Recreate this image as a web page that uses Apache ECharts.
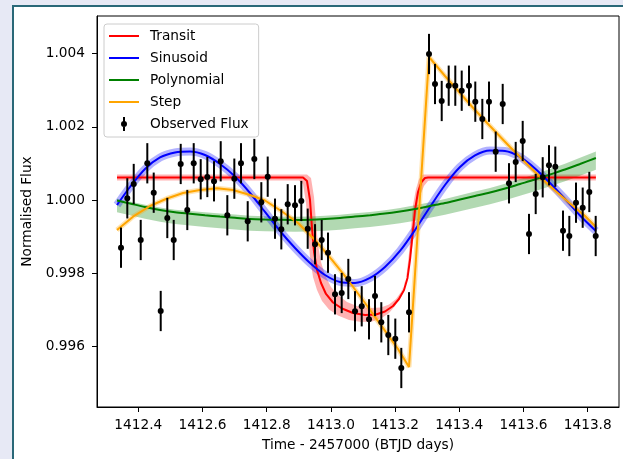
<!DOCTYPE html>
<html><head><meta charset="utf-8">
<script src="https://cdn.jsdelivr.net/npm/echarts@6/dist/echarts.min.js"></script>
<style>
html,body{margin:0;padding:0;width:623px;height:459px;overflow:hidden;background:#e7e9f5;}
#panel{position:absolute;left:12px;top:5px;width:640px;height:480px;background:#fff;border:2px solid #2a6878;box-sizing:border-box;}
#chart{position:absolute;left:0;top:0;width:623px;height:459px;}
</style></head><body>
<div id="panel"></div><div id="chart"></div>
<script>
// ---- observed data ----
const time = [1412.3461, 1412.3657, 1412.3857, 1412.4075, 1412.4280, 1412.4480, 1412.4698, 1412.4903, 1412.5103, 1412.5321,
  1412.5526, 1412.5726, 1412.5944, 1412.6150, 1412.6358, 1412.6567, 1412.6773, 1412.6991, 1412.7199, 1412.7408,
  1412.7614, 1412.7832, 1412.8031, 1412.8259, 1412.8455, 1412.8654, 1412.8882, 1412.9078, 1412.9277, 1412.9505,
  1412.9713, 1412.9910, 1413.0128, 1413.0336, 1413.0542, 1413.0751, 1413.0960, 1413.1187, 1413.1374, 1413.1570,
  1413.1788, 1413.2006, 1413.2193, 1413.2433, 1413.3056, 1413.3243, 1413.3452, 1413.3670, 1413.3875, 1413.4075,
  1413.4302, 1413.4498, 1413.4717, 1413.4925, 1413.5134, 1413.5352, 1413.5548, 1413.5757, 1413.5975, 1413.6171,
  1413.6380, 1413.6598, 1413.6794, 1413.6991, 1413.7231, 1413.7427, 1413.7636, 1413.7844, 1413.8050, 1413.8249];
const flux = [0.998697, 1.000046, 1.000437, 0.998907, 1.001003, 1.000199, 0.996967, 0.999508, 0.998907, 1.000984,
  0.999727, 1.001003, 1.000566, 1.000628, 1.000511, 1.001057, 0.999582, 1.000582, 1.001003, 0.999418,
  1.001120, 0.999937, 1.000637, 0.999489, 0.999199, 0.999883, 0.999855, 0.999973, 0.999216, 0.998790,
  0.998907, 0.998560, 0.997423, 0.997459, 0.997842, 0.996959, 0.997096, 0.996740, 0.997377, 0.996658,
  0.996311, 0.996210, 0.995410, 0.996932, 1.003989, 1.003169, 1.002705, 1.003123, 1.003123, 1.002986,
  1.003123, 1.002686, 1.002213, 1.002686, 1.001320, 1.002623, 1.000456, 1.001038, 1.001612, 0.999071,
  1.000164, 1.000620, 1.000948, 1.000910, 0.999161, 0.999016, 0.999926, 0.999790, 1.000219, 0.999016];
const fluxErr = 0.00055;

// ---- transit model ----
const transitTime = [1412.3336, 1412.9131, 1412.9255, 1412.9349, 1412.9411, 1412.9474, 1412.9567, 1412.9692, 1412.9847, 1413.0065,
  1413.0346, 1413.0688, 1413.1062, 1413.1405, 1413.1685, 1413.1935, 1413.2121, 1413.2277, 1413.2386, 1413.2464,
  1413.2542, 1413.2620, 1413.2713, 1413.2822, 1413.2931, 1413.3025, 1413.8255];
const transitFlux = [1.000615, 1.000615, 1.000519, 1.000000, 0.999235, 0.998579, 0.998087, 0.997732, 0.997432, 0.997199,
  0.997036, 0.996913, 0.996858, 0.996872, 0.996954, 0.997104, 0.997295, 0.997541, 0.997869, 0.998361,
  0.999044, 0.999727, 1.000219, 1.000492, 1.000601, 1.000615, 1.000615];
const transitUpTime = [1412.3336, 1412.9255, 1412.9380, 1412.9474, 1412.9536, 1412.9598, 1412.9692, 1412.9816, 1413.0003, 1413.0221,
  1413.0502, 1413.0844, 1413.1218, 1413.1561, 1413.1810, 1413.2028, 1413.2184, 1413.2308, 1413.2371, 1413.2433,
  1413.2495, 1413.2558, 1413.2651, 1413.2745, 1413.2869, 1413.8255];
const transitUpFlux = [1.000697, 1.000697, 1.000601, 1.000082, 0.999399, 0.998770, 0.998306, 0.997951, 0.997623, 0.997404,
  0.997213, 0.997090, 0.997049, 0.997063, 0.997145, 0.997295, 0.997486, 0.997732, 0.998060, 0.998552,
  0.999208, 0.999863, 1.000301, 1.000574, 1.000697, 1.000697];
const transitLoTime = [1412.3336, 1412.9006, 1412.9131, 1412.9224, 1412.9287, 1412.9349, 1412.9442, 1412.9567, 1412.9723, 1412.9941,
  1413.0221, 1413.0564, 1413.0938, 1413.1280, 1413.1561, 1413.1810, 1413.1997, 1413.2153, 1413.2277, 1413.2433,
  1413.2558, 1413.2651, 1413.2745, 1413.2900, 1413.3025, 1413.3118, 1413.8255];
const transitLoFlux = [1.000533, 1.000533, 1.000437, 0.999918, 0.999126, 0.998443, 0.997896, 0.997541, 0.997240, 0.997008,
  0.996844, 0.996721, 0.996667, 0.996680, 0.996762, 0.996913, 0.997104, 0.997350, 0.997678, 0.998169,
  0.998852, 0.999563, 1.000055, 1.000383, 1.000519, 1.000533, 1.000533];

// ---- sinusoid & polynomial models ----
const modelTime = [1412.3336, 1412.3741, 1412.4209, 1412.4676, 1412.5143, 1412.5611, 1412.6078, 1412.6545, 1412.7012, 1412.7480,
  1412.7947, 1412.8414, 1412.8882, 1412.9349, 1412.9816, 1413.0283, 1413.0751, 1413.1218, 1413.1685, 1413.2153,
  1413.2620, 1413.3087, 1413.3554, 1413.4022, 1413.4489, 1413.4956, 1413.5424, 1413.5891, 1413.6358, 1413.6826,
  1413.7293, 1413.7760, 1413.8255];
const sinusoidFlux = [0.999863, 1.000355, 1.000847, 1.001161, 1.001298, 1.001325, 1.001230, 1.000984, 1.000642, 1.000191,
  0.999672, 0.999153, 0.998689, 0.998279, 0.997951, 0.997760, 0.997732, 0.997869, 0.998169, 0.998607,
  0.999180, 0.999809, 1.000410, 1.000902, 1.001216, 1.001352, 1.001339, 1.001175, 1.000861, 1.000464,
  1.000027, 0.999577, 0.999153];
const polyFlux = [0.999986, 0.999904, 0.999809, 0.999727, 0.999664, 0.999623, 0.999582, 0.999546, 0.999514, 0.999481,
  0.999467, 0.999459, 0.999454, 0.999462, 0.999481, 0.999508, 0.999546, 0.999585, 0.999628, 0.999686,
  0.999754, 0.999836, 0.999918, 1.000014, 1.000109, 1.000205, 1.000314, 1.000437, 1.000560, 1.000697,
  1.000833, 1.000984, 1.001148];
const polyUpper = [1.000036, 0.999959, 0.999869, 0.999792, 0.999734, 0.999698, 0.999662, 0.999631, 0.999604, 0.999571,
  0.999557, 0.999549, 0.999544, 0.999552, 0.999571, 0.999598, 0.999636, 0.999675, 0.999718, 0.999781,
  0.999854, 0.999941, 1.000028, 1.000129, 1.000229, 1.000330, 1.000444, 1.000572, 1.000700, 1.000847,
  1.000993, 1.001154, 1.001328];
const polyLower = [0.999666, 0.999584, 0.999489, 0.999407, 0.999344, 0.999303, 0.999262, 0.999226, 0.999194, 0.999161,
  0.999147, 0.999139, 0.999134, 0.999142, 0.999161, 0.999188, 0.999226, 0.999265, 0.999308, 0.999366,
  0.999434, 0.999516, 0.999598, 0.999694, 0.999789, 0.999885, 0.999994, 1.000117, 1.000240, 1.000377,
  1.000513, 1.000664, 1.000828];

// ---- step model ----
const stepTime = [1412.3336, 1412.3835, 1412.4364, 1412.4894, 1412.5393, 1412.5922, 1412.6452, 1412.6950, 1412.7480, 1412.7947,
  1412.8477, 1412.8975, 1412.9505, 1413.0034, 1413.0533, 1413.1062, 1413.1592, 1413.2090, 1413.2433, 1413.3056,
  1413.3554, 1413.4022, 1413.4489, 1413.4956, 1413.5579, 1413.6047, 1413.6514, 1413.6981, 1413.7449, 1413.7916, 1413.8255];
const stepFlux = [0.999180, 0.999544, 0.999836, 1.000041, 1.000191, 1.000273, 1.000320, 1.000273, 1.000137, 0.999986,
  0.999686, 0.999372, 0.998907, 0.998361, 0.997814, 0.997186, 0.996538, 0.995929, 0.995437, 1.003907,
  1.003388, 1.002923, 1.002459, 1.002022, 1.001448, 1.001038, 1.000628, 1.000260, 0.999904, 0.999563, 0.999262];

// ---- axes ----
const xTicks = [1412.4, 1412.6, 1412.8, 1413.0, 1413.2, 1413.4, 1413.6, 1413.8];
const yTicks = [0.996, 0.998, 1.000, 1.002, 1.004];
const legendNames = ['Transit', 'Sinusoid', 'Polynomial', 'Step', 'Observed Flux'];

const FONT = 'DejaVu Sans';
const FS = 13.7;
const pairs = (xs, ys) => xs.map((x, i) => [x, ys[i]]);

function bandSeries(name, upX, upY, loX, loY, color) {
  return {
    type: 'custom', name: name, silent: true, z: 1, data: [[upX[0], upY[0]]],
    renderItem: function (params, api) {
      const pts = [];
      for (let i = 0; i < upX.length; i++) pts.push(api.coord([upX[i], upY[i]]));
      for (let i = loX.length - 1; i >= 0; i--) pts.push(api.coord([loX[i], loY[i]]));
      return { type: 'polygon', shape: { points: pts }, style: { fill: color } };
    }
  };
}
function lineSeries(name, xs, ys, color, width, z, smooth) {
  return {
    type: 'line', name: name, data: pairs(xs, ys), symbol: 'none', showSymbol: false, silent: true,
    smooth: smooth || false, z: z, color: color,
    lineStyle: { color: color, width: width }, itemStyle: { color: color }
  };
}

const chart = echarts.init(document.getElementById('chart'), null, { renderer: 'canvas' });
const lineIcon = 'path://M0,0 H30 V2 H0 Z';
const errIcon = 'path://M-1,-7 H1 V7 H-1 Z M0,-3 A3,3 0 1 1 0,3 A3,3 0 1 1 0,-3 Z';
const colors = ['#ff0000', '#0000ff', '#008000', '#ffa500', '#000000'];

chart.setOption({
  animation: false,
  textStyle: { fontFamily: FONT },
  grid: { left: 97, right: 4, top: 16, bottom: 52, show: true, borderColor: '#000', borderWidth: 1, backgroundColor: 'transparent' },
  legend: {
    left: 104, top: 24, orient: 'vertical', itemWidth: 30, itemHeight: 14, itemGap: 8,
    padding: [5, 10, 6, 5], backgroundColor: 'rgba(255,255,255,0.8)', borderColor: '#cccccc', borderWidth: 1, borderRadius: 3,
    selectedMode: false,
    textStyle: { fontFamily: FONT, fontSize: FS, color: '#000', padding: [0, 0, 0, 6] },
    data: legendNames.map((n, i) => ({
      name: n, icon: i === 4 ? errIcon : lineIcon,
      itemStyle: { color: colors[i], borderWidth: 0 }
    }))
  },
  xAxis: {
    type: 'value', min: 1412.2713, max: 1413.8975,
    name: 'Time - 2457000 (BTJD days)', nameLocation: 'middle', nameGap: 31,
    nameTextStyle: { fontFamily: FONT, fontSize: FS, color: '#000' },
    splitLine: { show: false },
    axisLine: { show: true, onZero: false, lineStyle: { color: '#000', width: 1 } },
    axisTick: { show: true, length: 5, lineStyle: { color: '#000', width: 1 }, customValues: xTicks },
    axisLabel: { customValues: xTicks, formatter: v => v.toFixed(1), margin: 11, fontSize: FS, color: '#000', fontFamily: FONT }
  },
  yAxis: {
    type: 'value', min: 0.994344, max: 1.005027,
    name: 'Normalised Flux', nameLocation: 'middle', nameGap: 58,
    nameTextStyle: { fontFamily: FONT, fontSize: FS, color: '#000' },
    splitLine: { show: false },
    axisLine: { show: true, onZero: false, lineStyle: { color: '#000', width: 1 } },
    axisTick: { show: true, length: 5, lineStyle: { color: '#000', width: 1 }, customValues: yTicks },
    axisLabel: { customValues: yTicks, formatter: v => v.toFixed(3), margin: 12, fontSize: FS, color: '#000', fontFamily: FONT }
  },
  series: [
    bandSeries('transitBand', transitUpTime, transitUpFlux, transitLoTime, transitLoFlux, 'rgba(255,0,0,0.3)'),
    lineSeries('sinBand', modelTime, sinusoidFlux, 'rgba(0,0,255,0.3)', 8, 1, 0.3),
    bandSeries('polyBand', modelTime, polyUpper, modelTime, polyLower, 'rgba(0,128,0,0.3)'),
    lineSeries('stepBand', stepTime, stepFlux, 'rgba(255,165,0,0.3)', 5, 1, false),
    lineSeries('Transit', transitTime, transitFlux, '#ff0000', 2, 2, false),
    lineSeries('Sinusoid', modelTime, sinusoidFlux, '#0000ff', 2, 2, 0.3),
    lineSeries('Polynomial', modelTime, polyFlux, '#008000', 2, 2, 0.3),
    lineSeries('Step', stepTime, stepFlux, '#ffa500', 2, 2, false),
    {
      type: 'custom', name: 'Observed Flux', silent: true, z: 4,
      itemStyle: { color: '#000' },
      data: pairs(time, flux),
      renderItem: function (params, api) {
        const x = api.value(0), y = api.value(1);
        const p = api.coord([x, y]);
        const t = api.coord([x, y + fluxErr]);
        const b = api.coord([x, y - fluxErr]);
        return {
          type: 'group', children: [
            { type: 'line', shape: { x1: p[0], y1: t[1], x2: p[0], y2: b[1] }, style: { stroke: '#000', lineWidth: 2 } },
            { type: 'circle', shape: { cx: p[0], cy: p[1], r: 3 }, style: { fill: '#000' } }
          ]
        };
      }
    }
  ]
});
</script></body></html>
